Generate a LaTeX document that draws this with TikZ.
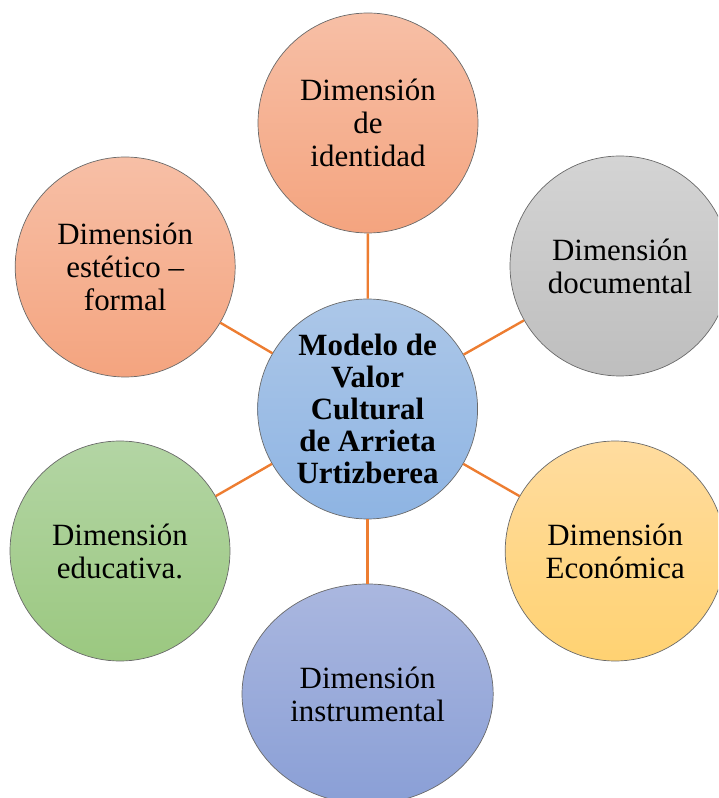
\documentclass[tikz,border=0pt]{standalone}
\usepackage{fontspec}
\setmainfont{Liberation Serif}
\usepackage{xcolor}
\usepackage{tikz}
\usetikzlibrary{positioning,shapes.geometric}

\definecolor{salmonA}{HTML}{F7BFA6}
\definecolor{salmonB}{HTML}{F4A47F}
\definecolor{grisA}{HTML}{D4D4D4}
\definecolor{grisB}{HTML}{BEBEBE}
\definecolor{azulA}{HTML}{ACC7E8}
\definecolor{azulB}{HTML}{8EB4E3}
\definecolor{verdeA}{HTML}{B3D5A4}
\definecolor{verdeB}{HTML}{9BC880}
\definecolor{amarilloA}{HTML}{FFDC9F}
\definecolor{amarilloB}{HTML}{FFD272}
\definecolor{lilaA}{HTML}{AAB7DF}
\definecolor{lilaB}{HTML}{8A9FD6}
\definecolor{naranja}{HTML}{ED7D31}
\definecolor{borde}{HTML}{6A6A6A}

\tikzset{
	dimension/.style={draw=borde,line width=0.5pt,circle,minimum size=5.5cm,inner sep=0pt,align=center,font=\fontsize{22}{23.5}\selectfont},
	enlace/.style={draw=naranja,line width=1.7pt}
}

\begin{document}
\begin{tikzpicture}
	\useasboundingbox (-9.19,-9.725) rectangle (8.76,10.225);
	\clip (-9.19,-9.725) rectangle (8.76,10.225);
	% Modelo central
	\node[dimension,top color=azulA,bottom color=azulB,font=\bfseries\fontsize{22}{22.8}\selectfont] (modelo) at (0,0) {Modelo de\\Valor\\Cultural\\de Arrieta\\Urtizberea};
	% Dimensiones
	\node[dimension,top color=salmonA,bottom color=salmonB] (identidad) at (0.01,7.15) {Dimensión\\de\\identidad};
	\node[dimension,top color=salmonA,bottom color=salmonB] (estetico) at (-6.06,3.55) {Dimensión\\estético –\\formal};
	\node[dimension,top color=grisA,bottom color=grisB] (documental) at (6.31,3.575) {Dimensión\\documental};
	\node[dimension,top color=verdeA,bottom color=verdeB] (educativa) at (-6.19,-3.55) {Dimensión\\educativa.};
	\node[dimension,top color=amarilloA,bottom color=amarilloB] (economica) at (6.19,-3.55) {Dimensión\\Económica};
	\node[dimension,ellipse,minimum width=6.28cm,minimum height=5.5cm,top color=lilaA,bottom color=lilaB] (instrumental) at (0,-7.125) {Dimensión\\instrumental};
	
	% Enlaces
	\draw[enlace] (modelo) -- (identidad);
	\draw[enlace] (modelo) -- (estetico);
	\draw[enlace] (modelo) -- (documental);
	\draw[enlace] (modelo) -- (educativa);
	\draw[enlace] (modelo) -- (economica);
	\draw[enlace] (modelo) -- (instrumental);
\end{tikzpicture}
\end{document}
